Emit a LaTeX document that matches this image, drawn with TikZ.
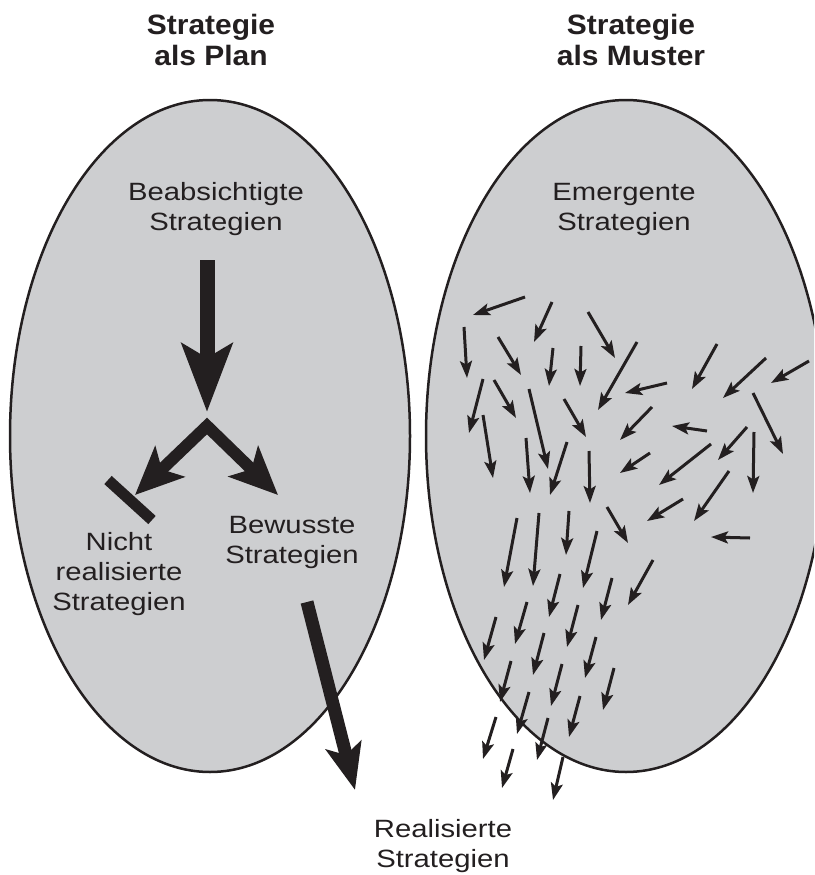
\documentclass[tikz,border=0pt]{standalone}
\usepackage{fontspec}
\setmainfont{Liberation Sans}[FakeStretch=1.17]
\newfontfamily\headfont{Liberation Sans}[FakeStretch=1.07]
\usetikzlibrary{arrows.meta}
\definecolor{ovalgray}{RGB}{205,206,208}
\definecolor{inkblack}{RGB}{35,31,32}

\begin{document}
\begin{tikzpicture}[x=1pt,y=-1pt,
  oval/.style={draw=inkblack,line width=2.5pt,fill=ovalgray},
  headline/.style={align=center,inner sep=0pt,text=inkblack,font=\headfont\bfseries\fontsize{28}{31}\selectfont},
  caption/.style={align=center,inner sep=0pt,text=inkblack,font=\fontsize{25}{30}\selectfont},
  bigarrow/.style={draw=inkblack,line width=15pt,-{Stealth[length=68pt,width=50pt,inset=14pt]}},
  forkarrow/.style={draw=inkblack,line width=12pt,line join=miter,{Stealth[length=48pt,width=42pt,inset=11pt]}-{Stealth[length=48pt,width=42pt,inset=11pt]}},
  outarrow/.style={draw=inkblack,line width=13pt,-{Stealth[length=46pt,width=36pt,inset=10pt]}},
  smallarrow/.style={draw=inkblack,line width=3pt,-{Stealth[length=17pt,width=12pt,inset=3.5pt]}}]

\clip (0,0) rectangle (814,875);

% the two ovals
\draw[oval] (210,436) ellipse [x radius=200, y radius=336];
\draw[oval] (626,436) ellipse [x radius=200, y radius=336];

% titles
\node[headline,anchor=base] (plantitle) at (211,66) {Strategie\\als Plan};
\node[headline,anchor=base] (mustertitle) at (631,66) {Strategie\\als Muster};

% left: the plan
\node[caption,anchor=base] (intended) at (216,230) {Beabsichtigte\\Strategien};
\node[caption,anchor=base] (unrealized) at (119,610) {Nicht\\realisierte\\Strategien};
\node[caption,anchor=base] (deliberate) at (292,563) {Bewusste\\Strategien};
\node[caption,anchor=base] (realized) at (443,867) {Realisierte\\Strategien};

\coordinate (planstart) at (207,260);
\coordinate (planfork) at (207,412);
\coordinate (forkpeak) at (207,426);
\coordinate (forkleft) at (135,495);
\coordinate (forkright) at (278,495);
\coordinate (stopa) at (108,480);
\coordinate (stopb) at (152,520);
\coordinate (outstart) at (307,602);
\coordinate (outend) at (355,790);

\draw[bigarrow] (planstart) -- (planfork);
\draw[forkarrow] (forkleft) -- (forkpeak) -- (forkright);
\draw[draw=inkblack,line width=11pt] (stopa) -- (stopb);
\draw[outarrow] (outstart) -- (outend);

% right: the pattern
\node[caption,anchor=base] (emergent) at (624,230) {Emergente\\Strategien};

\foreach \xa/\ya/\xb/\yb in {
  525/297/473/315, 552/302/534/342, 588/312/615/358, 464/327/467/378,
  498/337/521/375, 553/348/549/386, 581/346/580/386, 637/342/598/410,
  717/344/692/389, 766/358/723/398, 809/361/771/383, 667/383/625/393,
  483/379/469/433, 494/380/516/418, 529/389/548/469, 564/399/586/437,
  753/393/783/454, 652/407/620/440, 483/415/493/478, 707/431/672/426,
  747/427/718/460, 754/432/753/493, 526/438/530/493, 567/442/550/495,
  589/451/590/503, 650/453/620/473, 711/444/659/485, 729/471/694/521,
  683/499/647/521, 607/507/628/543, 750/538/711/537,
  517/518/504/587, 539/513/533/586, 569/511/566/555, 597/531/583/588,
  653/560/628/605, 560/574/549/617, 612/578/601/620, 496/617/484/660,
  527/602/515/644, 578/605/567/647, 544/633/533/675, 596/637/585/678,
  511/661/500/702, 562/664/551/706, 614/668/603/710, 529/692/517/734,
  580/696/569/737, 496/717/483/759, 548/718/537/760, 513/749/502/788,
  563/757/553/800}
  \draw[smallarrow] (\xa,\ya) -- (\xb,\yb);

\end{tikzpicture}
\end{document}
